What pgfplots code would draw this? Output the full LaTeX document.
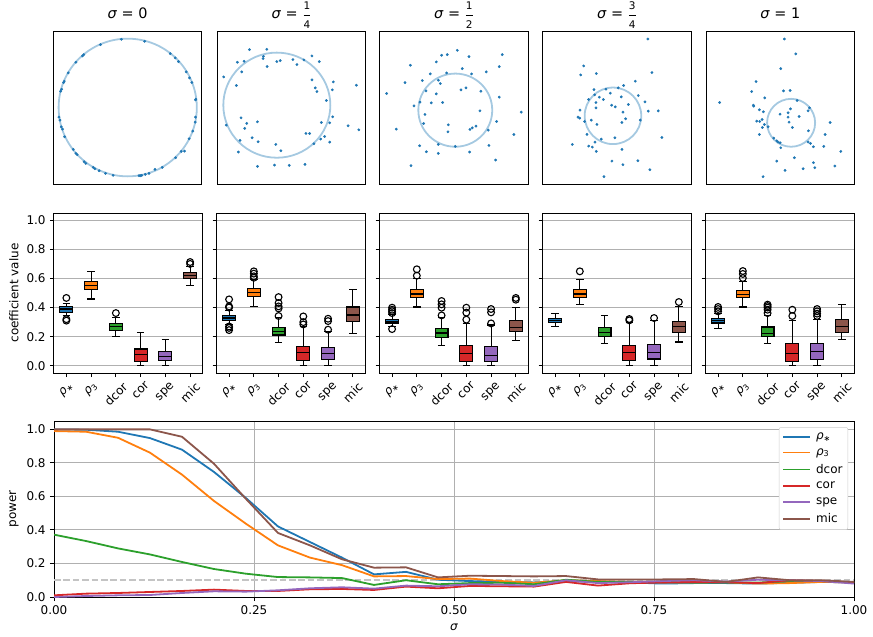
\documentclass[12pt,border=0pt]{standalone}
\usepackage{amsmath}
\usepackage{fontspec}
\setmainfont{DejaVu Sans}
\usepackage{pgfplots}
\pgfplotsset{compat=1.18}
\usepackage{pgfplotstable}

\definecolor{C0}{HTML}{1F77B4}
\definecolor{C1}{HTML}{FF7F0E}
\definecolor{C2}{HTML}{2CA02C}
\definecolor{C3}{HTML}{D62728}
\definecolor{C4}{HTML}{9467BD}
\definecolor{C5}{HTML}{8C564B}
\definecolor{circ}{HTML}{A5C9E1}
\definecolor{gridc}{HTML}{B0B0B0}

\newcommand{\rs}{\textit{ρ}\textsubscript{∗}}
\newcommand{\rt}{\textit{ρ}\textsubscript{3}}
\newcommand{\sig}{\textit{σ}}
\newcommand{\tfr}[2]{$\dfrac{\text{\fontsize{10.5}{12}\selectfont #1}}{\text{\fontsize{10.5}{12}\selectfont #2}}$}

% pos, lower whisker, q1, median, q3, upper whisker, colour, outliers
\newcommand{\bp}[8]{%
\pgfmathsetmacro\xl{#1-0.26}\pgfmathsetmacro\xr{#1+0.26}%
\pgfmathsetmacro\cl{#1-0.15}\pgfmathsetmacro\cr{#1+0.15}%
\addplot[black, line width=1.1pt] coordinates {(#1,#2)(#1,#3)};
\addplot[black, line width=1.1pt] coordinates {(#1,#5)(#1,#6)};
\addplot[black, line width=1.1pt] coordinates {(\cl,#2)(\cr,#2)};
\addplot[black, line width=1.1pt] coordinates {(\cl,#6)(\cr,#6)};
\addplot[draw=black, fill=#7, line width=1.1pt] coordinates {(\xl,#3)(\xr,#3)(\xr,#5)(\xl,#5)} -- cycle;
\addplot[black, line width=1.1pt] coordinates {(\xl,#4)(\xr,#4)};
\if\relax\detokenize{#8}\relax\else
\addplot[only marks, mark=o, mark size=3.4pt, black, line width=1.1pt] coordinates {#8};
\fi}

\pgfplotstableread{
s     rs     rt     dcor   cor    spe    mic
0.00  1.000  0.990  0.372  0.010  0.000  1.000
0.04  0.998  0.986  0.334  0.020  0.006  1.000
0.08  0.986  0.950  0.290  0.024  0.010  1.000
0.12  0.948  0.861  0.254  0.030  0.012  1.000
0.16  0.879  0.730  0.209  0.036  0.024  0.956
0.20  0.746  0.573  0.167  0.044  0.034  0.795
0.24  0.590  0.437  0.139  0.036  0.032  0.585
0.28  0.421  0.308  0.119  0.036  0.040  0.382
0.32  0.328  0.235  0.117  0.046  0.052  0.308
0.36  0.235  0.190  0.113  0.048  0.058  0.225
0.40  0.135  0.123  0.072  0.042  0.050  0.175
0.44  0.150  0.125  0.100  0.062  0.068  0.177
0.48  0.103  0.107  0.076  0.052  0.064  0.117
0.52  0.095  0.110  0.083  0.066  0.076  0.127
0.56  0.090  0.095  0.085  0.064  0.074  0.125
0.60  0.087  0.085  0.076  0.062  0.066  0.123
0.64  0.095  0.100  0.103  0.090  0.100  0.125
0.68  0.090  0.095  0.090  0.068  0.083  0.105
0.72  0.087  0.090  0.090  0.082  0.088  0.105
0.76  0.080  0.087  0.090  0.087  0.095  0.105
0.80  0.083  0.087  0.087  0.090  0.100  0.107
0.84  0.083  0.088  0.087  0.088  0.092  0.090
0.88  0.080  0.080  0.086  0.083  0.103  0.117
0.92  0.085  0.083  0.095  0.100  0.100  0.100
0.96  0.090  0.090  0.095  0.095  0.095  0.100
1.00  0.087  0.087  0.087  0.087  0.080  0.090
}\powertab

\pgfplotsset{
  /pgf/number format/assume math mode=true,
  every axis/.append style={scale only axis, axis line style={black, line width=1pt},
    tick style={black, line width=1pt}, tick align=outside, major tick length=4.2pt,
    tick pos=left, grid style={gridc, line width=1pt},
    title style={font=\fontsize{14.4}{17}\selectfont, at={(axis description cs:0.5,1)}, anchor=base, yshift=7pt}},
  scat/.style={width=148.5pt, height=152pt, xtick=\empty, ytick=\empty, y dir=reverse,
    ymin=35, ymax=492},
  pts/.style={only marks, mark=*, mark size=1.2pt, color=C0},
  boxax/.style={width=148.5pt, height=160pt, xmin=0.5, xmax=6.5, ymin=-0.05, ymax=1.05,
    xtick={1,2,3,4,5,6},
    xticklabels={\rotatebox{45}{\rs},\rotatebox{45}{\rt},\rotatebox{45}{dcor},\rotatebox{45}{cor},\rotatebox{45}{spe},\rotatebox{45}{mic}},
    ytick={0,0.2,0.4,0.6,0.8,1.0}, ymajorgrids,
    yticklabel style={/pgf/number format/.cd, fixed, fixed zerofill, precision=1}},
}

\begin{document}
\begin{tikzpicture}
\useasboundingbox (0,0) rectangle (873pt,-637pt);

% ---------------- scatter row ----------------
\begin{axis}[scat, at={(53.3pt,-184pt)}, anchor=south west, xmin=10, xmax=457, title={\sig{} = 0}]
\draw[circ, line width=1.8pt] (axis cs:234,262) ellipse [x radius=208, y radius=207];
\addplot[pts] coordinates {(215,57)(285,63)(152,73)(102,103)(98,107)(78,126)(362,100)(377,113)(387,124)(55,158)(410,155)(420,173)(427,187)(43,183)(41,187)(35,207)(32,213)(439,237)(438,239)(27,291)(30,300)(438,291)(437,306)(34,320)(38,327)(430,333)(419,356)(44,350)(405,393)(395,394)(70,388)(78,400)(82,404)(103,425)(108,430)(378,413)(338,442)(130,442)(135,446)(148,452)(167,460)(190,466)(268,467)(272,467)(276,466)(287,463)(298,460)(316,448)};
\end{axis}

\begin{axis}[scat, at={(217.3pt,-184pt)}, anchor=south west, xmin=22, xmax=466, title={\sig{} = \tfr{1}{4}}]
\draw[circ, line width=1.8pt] (axis cs:200,255) ellipse [x radius=160, y radius=158];
\addplot[pts] coordinates {(118,88)(170,87)(160,108)(159,115)(82,126)(102,123)(305,107)(210,121)(200,124)(248,118)(281,119)(327,124)(260,133)(171,139)(95,155)(41,170)(79,196)(305,179)(369,185)(438,195)(315,203)(366,209)(320,214)(348,241)(93,293)(367,290)(110,310)(142,305)(49,315)(333,307)(358,308)(413,317)(104,325)(445,329)(287,340)(298,340)(126,353)(343,349)(90,361)(144,365)(331,357)(358,366)(311,371)(197,373)(212,392)(85,396)(142,439)(193,435)(237,436)(284,433)};
\end{axis}

\begin{axis}[scat, at={(379.7pt,-184pt)}, anchor=south west, xmin=14, xmax=460, title={\sig{} = \tfr{1}{2}}]
\draw[circ, line width=1.8pt] (axis cs:241,270) ellipse [x radius=111, y radius=110];
\addplot[pts] coordinates {(247,90)(200,105)(217,103)(382,103)(282,109)(184,125)(106,135)(373,139)(262,145)(166,161)(215,158)(290,161)(334,155)(90,187)(142,181)(190,180)(196,190)(35,220)(258,209)(273,203)(153,212)(318,213)(184,221)(373,231)(135,246)(169,248)(203,247)(117,257)(315,272)(439,276)(150,283)(146,310)(365,304)(64,327)(220,314)(219,335)(285,328)(292,323)(303,318)(340,330)(417,343)(134,377)(190,373)(241,379)(342,376)(154,395)(190,400)(284,396)(362,420)(108,437)};
\end{axis}

\begin{axis}[scat, at={(542.7pt,-184pt)}, anchor=south west, xmin=14, xmax=460, title={\sig{} = \tfr{3}{4}}]
\draw[circ, line width=1.8pt] (axis cs:225,287) ellipse [x radius=85, y radius=85];
\addplot[pts] coordinates {(330,56)(137,137)(128,164)(175,160)(342,157)(292,183)(257,196)(241,203)(168,208)(204,207)(217,219)(152,238)(170,224)(184,231)(196,238)(250,230)(301,226)(174,247)(321,245)(221,255)(232,260)(271,253)(174,263)(126,270)(255,276)(331,273)(361,272)(120,291)(125,294)(263,296)(160,300)(252,307)(307,300)(140,304)(177,313)(147,343)(190,357)(231,353)(372,352)(103,373)(171,366)(152,378)(163,381)(175,394)(252,388)(222,423)(300,422)(255,434)(336,449)(198,470)};
\end{axis}

\begin{axis}[scat, at={(706pt,-184pt)}, anchor=south west, xmin=18, xmax=463, title={\sig{} = 1}]
\draw[circ, line width=1.8pt] (axis cs:273,308) ellipse [x radius=72, y radius=72];
\addplot[pts] coordinates {(253,56)(287,101)(242,145)(168,184)(155,214)(250,212)(270,211)(194,233)(291,241)(59,247)(160,255)(161,258)(178,269)(190,275)(271,266)(264,278)(240,282)(328,263)(324,272)(264,291)(297,289)(186,298)(170,303)(179,304)(193,313)(267,306)(390,307)(187,322)(204,320)(277,322)(325,332)(178,343)(375,343)(221,354)(230,362)(234,366)(240,368)(242,383)(324,366)(331,370)(340,380)(371,379)(422,394)(283,413)(230,423)(340,428)(344,443)(309,446)(255,451)(404,438)(189,470)};
\end{axis}

% ---------------- box plot row ----------------
\begin{axis}[boxax, at={(54pt,-373pt)}, anchor=south west, ylabel={coefficient value},
  ylabel style={at={(axis description cs:-0.27,0.5)}, anchor=center}]
\bp{1}{0.345}{0.369}{0.390}{0.408}{0.430}{C0}{(1,0.466)(1,0.320)(1,0.310)}
\bp{2}{0.459}{0.525}{0.553}{0.580}{0.647}{C1}{}
\bp{3}{0.202}{0.243}{0.268}{0.289}{0.330}{C2}{(3,0.362)}
\bp{4}{0.000}{0.030}{0.075}{0.115}{0.227}{C3}{}
\bp{5}{0.000}{0.034}{0.063}{0.099}{0.183}{C4}{}
\bp{6}{0.550}{0.599}{0.622}{0.642}{0.680}{C5}{(6,0.713)(6,0.700)}
\end{axis}

\begin{axis}[boxax, at={(216.7pt,-373pt)}, anchor=south west, yticklabels={}]
\bp{1}{0.285}{0.310}{0.328}{0.344}{0.380}{C0}{(1,0.456)(1,0.408)(1,0.400)(1,0.270)(1,0.260)(1,0.245)}
\bp{2}{0.408}{0.479}{0.505}{0.530}{0.590}{C1}{(2,0.649)(2,0.633)(2,0.615)(2,0.605)}
\bp{3}{0.158}{0.211}{0.234}{0.264}{0.330}{C2}{(3,0.472)(3,0.431)(3,0.408)(3,0.394)(3,0.342)}
\bp{4}{0.000}{0.037}{0.092}{0.133}{0.270}{C3}{(4,0.339)(4,0.300)(4,0.284)}
\bp{5}{0.000}{0.041}{0.083}{0.124}{0.235}{C4}{(5,0.323)(5,0.307)(5,0.248)}
\bp{6}{0.220}{0.307}{0.349}{0.404}{0.523}{C5}{}
\end{axis}

\begin{axis}[boxax, at={(379.7pt,-373pt)}, anchor=south west, yticklabels={}]
\bp{1}{0.270}{0.294}{0.307}{0.319}{0.350}{C0}{(1,0.399)(1,0.385)(1,0.375)(1,0.362)(1,0.252)}
\bp{2}{0.404}{0.466}{0.493}{0.525}{0.600}{C1}{(2,0.663)(2,0.619)}
\bp{3}{0.138}{0.197}{0.225}{0.255}{0.330}{C2}{(3,0.445)(3,0.422)(3,0.399)(3,0.346)}
\bp{4}{0.000}{0.032}{0.083}{0.138}{0.290}{C3}{(4,0.399)(4,0.365)(4,0.317)}
\bp{5}{0.000}{0.028}{0.073}{0.135}{0.280}{C4}{(5,0.390)(5,0.367)(5,0.291)}
\bp{6}{0.172}{0.236}{0.261}{0.312}{0.400}{C5}{(6,0.466)(6,0.454)}
\end{axis}

\begin{axis}[boxax, at={(542.7pt,-373pt)}, anchor=south west, yticklabels={}]
\bp{1}{0.268}{0.298}{0.312}{0.326}{0.362}{C0}{}
\bp{2}{0.422}{0.468}{0.493}{0.521}{0.592}{C1}{(2,0.649)}
\bp{3}{0.151}{0.200}{0.227}{0.261}{0.344}{C2}{}
\bp{4}{0.000}{0.037}{0.089}{0.142}{0.300}{C3}{(4,0.321)(4,0.312)}
\bp{5}{0.000}{0.046}{0.094}{0.147}{0.310}{C4}{(5,0.328)}
\bp{6}{0.163}{0.229}{0.271}{0.305}{0.408}{C5}{(6,0.438)}
\end{axis}

\begin{axis}[boxax, at={(705.7pt,-373pt)}, anchor=south west, yticklabels={}]
\bp{1}{0.259}{0.294}{0.310}{0.323}{0.362}{C0}{(1,0.404)(1,0.390)(1,0.374)}
\bp{2}{0.404}{0.466}{0.489}{0.518}{0.578}{C1}{(2,0.651)(2,0.631)(2,0.603)}
\bp{3}{0.151}{0.200}{0.220}{0.266}{0.346}{C2}{(3,0.420)(3,0.410)(3,0.400)(3,0.385)(3,0.362)}
\bp{4}{0.000}{0.030}{0.087}{0.151}{0.312}{C3}{(4,0.385)(4,0.342)}
\bp{5}{0.000}{0.041}{0.099}{0.151}{0.317}{C4}{(5,0.390)(5,0.374)(5,0.358)(5,0.342)}
\bp{6}{0.181}{0.229}{0.271}{0.317}{0.420}{C5}{}
\end{axis}

% ---------------- power curves ----------------
\begin{axis}[at={(54pt,-597pt)}, anchor=south west, width=800pt, height=176pt,
  xmin=0, xmax=1, ymin=0, ymax=1.05,
  xtick={0,0.25,0.5,0.75,1}, ytick={0,0.2,0.4,0.6,0.8,1.0}, grid=major,
  xticklabel style={/pgf/number format/.cd, fixed, fixed zerofill, precision=2},
  yticklabel style={/pgf/number format/.cd, fixed, fixed zerofill, precision=1},
  xlabel={\sig}, xlabel style={at={(axis description cs:0.5,-0.17)}, anchor=center},
  ylabel={power}, ylabel style={at={(axis description cs:-0.05,0.5)}, anchor=center},
  legend style={at={(0.9925,0.965)}, anchor=north east, draw=black!20, rounded corners=2pt,
    fill=white, row sep=2.8pt, inner sep=3pt,
    nodes={inner sep=2.2pt}, /tikz/every odd column/.append style={column sep=3pt}},
  legend cell align=left,
  legend image code/.code={\draw[#1, line width=1.8pt] (0pt,0pt) -- (27pt,0pt);}]
\addplot[gridc!75, line width=1.8pt, dash pattern=on 6.5pt off 2.9pt, forget plot] coordinates {(0,0.1)(1,0.1)};
\addplot[C0, line width=1.8pt] table[x=s, y=rs] {\powertab}; \addlegendentry{\rs}
\addplot[C1, line width=1.8pt] table[x=s, y=rt] {\powertab}; \addlegendentry{\rt}
\addplot[C2, line width=1.8pt] table[x=s, y=dcor] {\powertab}; \addlegendentry{dcor}
\addplot[C3, line width=1.8pt] table[x=s, y=cor] {\powertab}; \addlegendentry{cor}
\addplot[C4, line width=1.8pt] table[x=s, y=spe] {\powertab}; \addlegendentry{spe}
\addplot[C5, line width=1.8pt] table[x=s, y=mic] {\powertab}; \addlegendentry{mic}
\end{axis}
\end{tikzpicture}
\end{document}
